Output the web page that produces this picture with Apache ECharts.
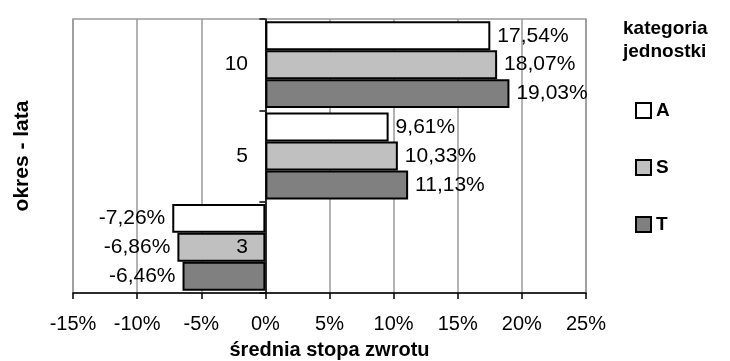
<!DOCTYPE html>
<html>
<head>
<meta charset="utf-8">
<script src="https://cdn.jsdelivr.net/npm/echarts@6/dist/echarts.min.js"></script>
<style>
  html, body { margin: 0; padding: 0; background: #fff; }
  #chart { width: 730px; height: 361px; }
</style>
</head>
<body>
<div id="chart"></div>
<script>
// Holding periods (years), bottom to top
const periods = ['3', '5', '10'];
// Average rate of return (%) per unit category
const seriesNames = ['A', 'S', 'T'];
const valuesA = [-7.26, 9.61, 17.54];
const valuesS = [-6.86, 10.33, 18.07];
const valuesT = [-6.46, 11.13, 19.03];
const fills = ['#ffffff', '#c0c0c0', '#808080'];

const FONT = 'Liberation Sans, Arial, sans-serif';

function fmt(v) {
  return v.toFixed(2).replace('.', ',') + '%';
}

function makeSeries(name, values, color) {
  return {
    name: name,
    type: 'bar',
    barGap: '0%',
    barCategoryGap: '5%',
    itemStyle: { color: color, borderColor: '#000', borderWidth: 2 },
    label: {
      show: true,
      position: 'right',
      distance: 7,
      color: '#000',
      fontFamily: FONT,
      fontSize: 21,
      formatter: p => fmt(p.value)
    },
    data: values.map(v => ({
      value: v,
      label: { position: v < 0 ? 'left' : 'right' }
    }))
  };
}

const chart = echarts.init(document.getElementById('chart'), null, { renderer: 'canvas' });
chart.setOption({
  animation: false,
  backgroundColor: '#fff',
  grid: {
    left: 73, right: 144, top: 19, bottom: 68,
    outerBoundsMode: 'none',
    containLabel: false,
    show: true, borderColor: '#9a9a9a', borderWidth: 1.5
  },
  legend: {
    orient: 'vertical',
    left: 635,
    top: 101,
    padding: 0,
    itemWidth: 15,
    itemHeight: 15,
    itemGap: 38,
    icon: 'rect',
    textStyle: { fontFamily: FONT, fontSize: 19, fontWeight: 'bold', color: '#000' },
    data: seriesNames
  },
  xAxis: {
    type: 'value',
    min: -15,
    max: 25,
    interval: 5,
    name: 'średnia stopa zwrotu',
    nameLocation: 'middle',
    nameGap: 47,
    nameTextStyle: { fontFamily: FONT, fontSize: 20, fontWeight: 'bold', color: '#000' },
    axisLine: { show: true, lineStyle: { color: '#000', width: 1.5 } },
    axisTick: { show: true, length: 6, lineStyle: { color: '#000', width: 1.5 } },
    axisLabel: { fontFamily: FONT, fontSize: 20, color: '#000', margin: 21, formatter: v => v + '%' },
    splitLine: { show: true, lineStyle: { color: '#9a9a9a', width: 1.5 } }
  },
  yAxis: {
    type: 'category',
    data: periods,
    z: 10,
    axisLine: { show: true, onZero: true, lineStyle: { color: '#000', width: 1.5 } },
    axisTick: { show: true, length: 6, lineStyle: { color: '#000', width: 1.5 } },
    // labels sit just left of the zero line
    axisLabel: { fontFamily: FONT, fontSize: 21, color: '#000', margin: -175, align: 'right' },
    splitLine: { show: false }
  },
  graphic: [
    {
      type: 'text',
      x: 22, y: 156,
      rotation: Math.PI / 2,
      style: {
        text: 'okres - lata',
        fontFamily: FONT,
        fontSize: 21,
        fontWeight: 'bold',
        fill: '#000',
        textAlign: 'center',
        textVerticalAlign: 'middle'
      }
    },
    {
      type: 'text',
      left: 623, top: 17,
      style: {
        text: 'kategoria\njednostki',
        fontFamily: FONT,
        fontSize: 19,
        fontWeight: 'bold',
        fill: '#000',
        lineHeight: 23
      }
    }
  ],
  series: [
    makeSeries(seriesNames[0], valuesA, fills[0]),
    makeSeries(seriesNames[1], valuesS, fills[1]),
    makeSeries(seriesNames[2], valuesT, fills[2])
  ]
});
</script>
</body>
</html>
